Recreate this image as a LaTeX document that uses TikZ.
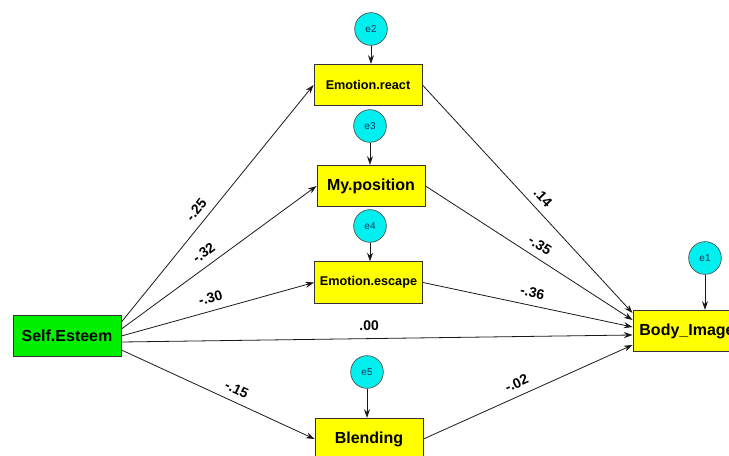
\documentclass[tikz,border=0pt]{standalone}
\usepackage{fontspec}
\setmainfont{Liberation Sans}
\usetikzlibrary{arrows.meta,calc}
\definecolor{boxyellow}{RGB}{255,255,0}
\definecolor{boxgreen}{RGB}{0,240,0}
\definecolor{errcyan}{RGB}{0,240,240}
\definecolor{errtext}{RGB}{30,50,90}
\begin{document}
\begin{tikzpicture}[x=0.75pt,y=-0.75pt,
  box/.style={draw=black!80,line width=0.7pt,fill=boxyellow,minimum width=81pt,minimum height=31pt,inner sep=0pt},
  bigtxt/.style={font=\bfseries\fontsize{12}{14}\selectfont},
  smalltxt/.style={font=\bfseries\fontsize{9.5}{11}\selectfont},
  err/.style={circle,draw=black!70,line width=0.5pt,fill=errcyan,minimum size=24.5pt,inner sep=0pt,font=\fontsize{7.5}{8}\selectfont,text=errtext},
  conn/.style={draw=black!90,line width=0.6pt,-{Stealth[length=6.5pt,width=4.5pt]}},
  coef/.style={font=\bfseries\fontsize{10.5}{12}\selectfont,sloped,above=4.5pt,inner sep=1pt}]
\useasboundingbox (0,0) rectangle (729,456);
\clip (0,0) rectangle (729,456);

% boxes
\node[box,fill=boxgreen,bigtxt] (se) at (67,336) {Self.Esteem};
\node[box,smalltxt] (er) at (368,85) {Emotion.react};
\node[box,bigtxt] (mp) at (371,186) {My.position};
\node[box,smalltxt] (ee) at (368.5,282.5) {Emotion.escape};
\node[box,bigtxt] (bi) at (687,331) {Body\_Image};
\node[box,bigtxt] (bl) at (369,439) {Blending};

% error terms
\node[err] (e2) at (371,29) {e2};
\node[err] (e3) at (370,126) {e3};
\node[err] (e4) at (370,226) {e4};
\node[err] (e1) at (705,258) {e1};
\node[err] (e5) at (367,372) {e5};

\draw[conn] (e2) -- (e2 |- er.north);
\draw[conn] (e3) -- (e3 |- mp.north);
\draw[conn] (e4) -- (e4 |- ee.north);
\draw[conn] (e1) -- (e1 |- bi.north);
\draw[conn] (e5) -- (e5 |- bl.north);

% paths from Self.Esteem
\draw[conn] ($(se.east)+(0,-14)$) -- (er.west) node[coef,pos=0.44] {-.25};
\draw[conn] ($(se.east)+(0,-7)$) -- (mp.west) node[coef,pos=0.46] {-.32};
\draw[conn] ($(se.east)+(0,0)$) -- (ee.west) node[coef,pos=0.48] {-.30};
\draw[conn] ($(se.east)+(0,6)$) -- ($(bi.west)+(0,4)$) node[coef,pos=0.485] {.00};
\draw[conn] ($(se.east)+(0,14)$) -- (bl.west) node[coef,pos=0.57] {-.15};

% paths to Body_Image
\draw[conn] (er.east) -- ($(bi.west)+(0,-18)$) node[coef,pos=0.53] {.14};
\draw[conn] (mp.east) -- ($(bi.west)+(0,-11)$) node[coef,pos=0.52] {-.35};
\draw[conn] (ee.east) -- ($(bi.west)+(0,-4)$) node[coef,pos=0.51] {-.36};
\draw[conn] (bl.east) -- ($(bi.west)+(0,14)$) node[coef,pos=0.47] {-.02};
\end{tikzpicture}
\end{document}
